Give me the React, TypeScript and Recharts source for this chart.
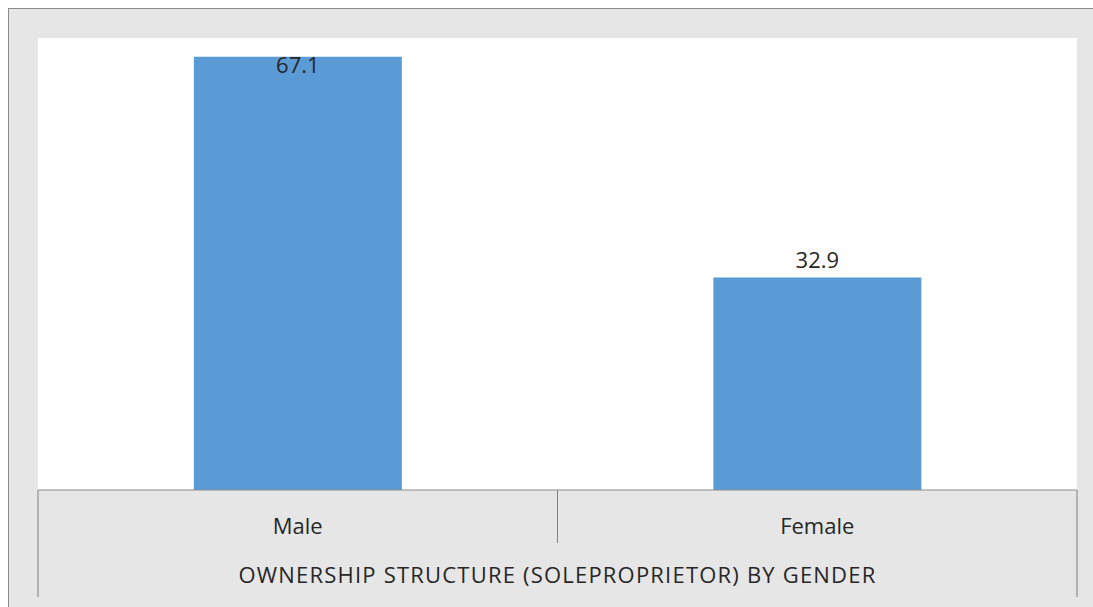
import { BarChart, Bar, XAxis, YAxis, CartesianGrid, LabelList, Label } from "recharts";

const categories = ["Male", "Female"];
const shares = [67.1, 32.9];
const title = "OWNERSHIP STRUCTURE (SOLEPROPRIETOR) BY GENDER";

const data = categories.map((gender, i) => ({ gender, share: shares[i] }));

const FONT = "'Open Sans', sans-serif";
const PLOT_TOP = 30;

// table-style category axis: label in the middle, separators at the band edges
const TableTick = (props: any) => {
  const { x, y, payload, index, visibleTicksCount } = props;
  const half = payload?.offset ?? 0;
  const last = index === visibleTicksCount - 1;
  return (
    <g>
      <line
        x1={x - half}
        x2={x - half}
        y1={y}
        y2={y + (index === 0 ? 107 : 53)}
        stroke="#7f7f7f"
      />
      {last && (
        <line x1={x + half} x2={x + half} y1={y} y2={y + 107} stroke="#7f7f7f" />
      )}
      <text
        x={x}
        y={y + 44}
        textAnchor="middle"
        fontFamily={FONT}
        fontSize={22}
        fill="#262626"
      >
        {payload.value}
      </text>
    </g>
  );
};

// Excel-like "outside end" label that falls back inside when there is no room
const ValueLabel = (props: any) => {
  const { x, y, width, value } = props;
  let base = y - 10;
  if (base - 18 < PLOT_TOP) base = y + 16;
  return (
    <text
      x={x + width / 2}
      y={base}
      textAnchor="middle"
      fontFamily={FONT}
      fontSize={22}
      fill="#262626"
    >
      {value}
    </text>
  );
};

export default function App() {
  return (
    <div
      style={{
        position: "fixed",
        left: 0,
        top: 0,
        width: 1093,
        height: 607,
        background: "#ffffff",
        overflow: "hidden",
      }}
    >
      <div
        style={{
          position: "absolute",
          left: 8,
          top: 8,
          width: 1085,
          height: 599,
          background: "#e6e6e6",
          boxShadow: "inset 1px 1px 0 #8a8a8a",
        }}
      >
        <BarChart
          width={1085}
          height={599}
          data={data}
          margin={{ top: PLOT_TOP, right: 16, left: 30, bottom: 0 }}
          barCategoryGap="30%"
        >
          <CartesianGrid fill="#ffffff" horizontal={false} vertical={false} />
          <YAxis hide domain={[0, 70]} />
          <XAxis
            dataKey="gender"
            height={117}
            interval={0}
            tickLine={false}
            tickSize={0}
            tickMargin={0}
            axisLine={{ stroke: "#8c8c8c" }}
            tick={<TableTick />}
          >
            <Label
              value={title}
              position="insideBottom"
              offset={24}
              style={{ fontFamily: FONT, fontSize: 22, fill: "#262626", letterSpacing: 1.2 }}
            />
          </XAxis>
          <Bar dataKey="share" fill="#5b9bd5" isAnimationActive={false}>
            <LabelList dataKey="share" content={<ValueLabel />} />
          </Bar>
        </BarChart>
      </div>
    </div>
  );
}
